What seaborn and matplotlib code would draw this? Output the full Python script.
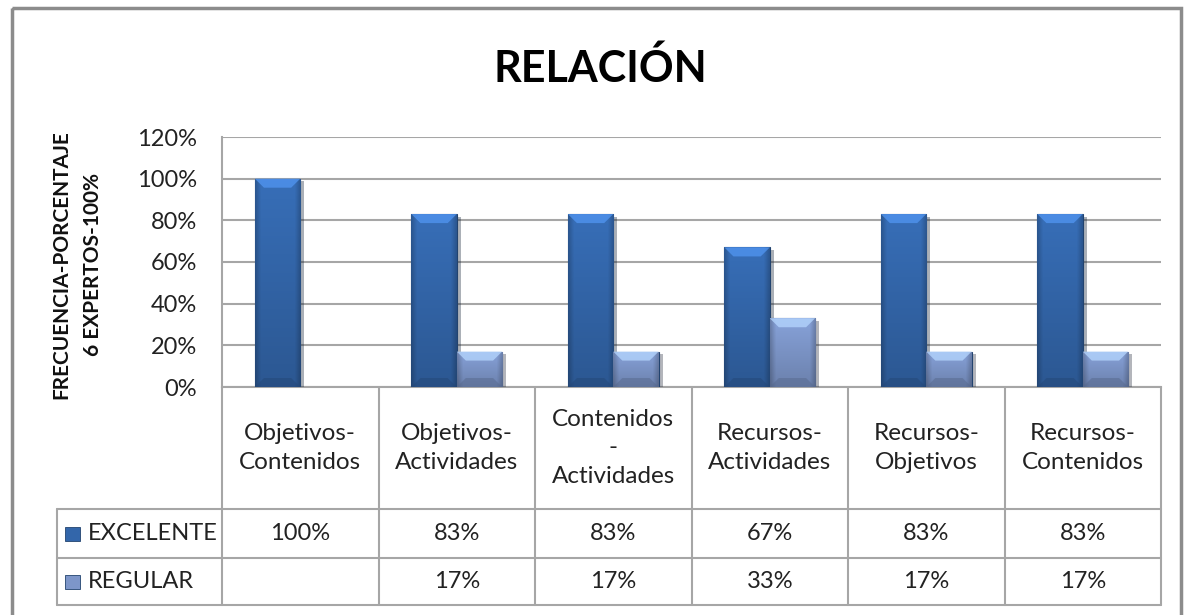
import matplotlib
matplotlib.use("Agg")
import matplotlib.pyplot as plt
import matplotlib.patheffects as pe
from matplotlib.colors import to_rgb
from matplotlib.patches import Rectangle, Polygon
from matplotlib.transforms import blended_transform_factory
import numpy as np
import pandas as pd
import seaborn as sns

# -----------------------------
# data
# -----------------------------
categories = ["Objetivos-\nContenidos", "Objetivos-\nActividades",
              "Contenidos\n-\nActividades", "Recursos-\nActividades",
              "Recursos-\nObjetivos", "Recursos-\nContenidos"]
series = ["EXCELENTE", "REGULAR"]
excelente = [100, 83, 83, 67, 83, 83]
regular = [np.nan, 17, 17, 33, 17, 17]
yticks = [0, 20, 40, 60, 80, 100, 120]

colors = {"EXCELENTE": "#3366AA", "REGULAR": "#7D96C9"}

df = pd.DataFrame({
    "Categoria": categories * 2,
    "Serie": [series[0]] * len(categories) + [series[1]] * len(categories),
    "Valor": excelente + regular,
}).dropna()

# -----------------------------
# figure
# -----------------------------
sns.set_style("white")
plt.rcParams["font.family"] = ["Lato", "DejaVu Sans"]

W, H = 1193, 615
fig = plt.figure(figsize=(W / 100, H / 100), dpi=100)

bg = fig.add_axes([0, 0, 1, 1])
bg.set_xlim(0, W)
bg.set_ylim(H, 0)
bg.axis("off")

x0, x1, ytop, ybot = 222, 1161, 137, 387
ax = fig.add_axes([x0 / W, 1 - ybot / H, (x1 - x0) / W, (ybot - ytop) / H])

sns.barplot(data=df, x="Categoria", y="Valor", hue="Serie", order=categories,
            hue_order=series, palette=colors, width=0.58, saturation=1,
            edgecolor="#22436F", linewidth=0.8, legend=False, ax=ax, zorder=3)

ax.set_xlim(-0.5, len(categories) - 0.5)
ax.set_ylim(0, 120)

# bevel look: gradient clipped to each bar + light top facet
px = 120 / (ybot - ytop)  # data units per pixel
for bar in list(ax.patches):
    bar.set_path_effects([pe.SimplePatchShadow(offset=(3, -2), alpha=0.35), pe.Normal()])
    bx, by, bw, bh = bar.get_x(), bar.get_y(), bar.get_width(), bar.get_height()
    base = np.array(to_rgb(bar.get_facecolor()))
    v = np.linspace(1.08, 0.86, 64)[:, None]
    hz = np.linspace(0, 1, 32)[None, :]
    edge = np.clip(np.minimum(hz, 1 - hz) / 0.12, 0, 1) * 0.2 + 0.8
    img = np.clip(base[None, None, :] * (v * edge)[:, :, None], 0, 1)
    im = ax.imshow(img, extent=[bx, bx + bw, by, by + bh], aspect="auto",
                   zorder=3.2, interpolation="bilinear")
    im.set_clip_path(bar)
    dx, dy = bw * 0.2, 9 * px
    top_col = np.clip(base * 1.35 + 0.05, 0, 1)
    ax.add_patch(Polygon([(bx, by + bh), (bx + bw, by + bh), (bx + bw - dx, by + bh - dy),
                          (bx + dx, by + bh - dy)], closed=True, facecolor=top_col,
                         edgecolor="none", alpha=0.75, zorder=3.3))
    bot_col = base * 0.7
    ax.add_patch(Polygon([(bx, by), (bx + bw, by), (bx + bw - dx, by + dy),
                          (bx + dx, by + dy)], closed=True, facecolor=bot_col,
                         edgecolor="none", alpha=0.5, zorder=3.3))

ax.set_xlim(-0.5, len(categories) - 0.5)
ax.set_ylim(0, 120)
ax.set_yticks(yticks)
ax.set_yticklabels([f"{t}%" for t in yticks])
ax.set_xticks([])
ax.set_xlabel("")
ax.set_ylabel("")
ax.tick_params(axis="y", length=0, pad=18, labelsize=17, labelcolor="#222222")
ax.yaxis.grid(True, color="#A6A6A6", linewidth=1.5, zorder=0)
ax.set_axisbelow(True)
for s in ["top", "right"]:
    ax.spines[s].set_visible(False)
for s in ["left", "bottom"]:
    ax.spines[s].set_color("#A6A6A6")
    ax.spines[s].set_linewidth(1.5)

# -----------------------------
# data table under the chart
# -----------------------------
trans = blended_transform_factory(ax.transData, bg.transData)
line_kw = dict(color="#A6A6A6", linewidth=1.5)
row_tops = [ybot, 509, 558, 605]

for k in range(len(categories) + 1):
    bg.plot([k - 0.5, k - 0.5], [ybot, row_tops[-1]], transform=trans, **line_kw)
for y in row_tops[1:]:
    bg.plot([57, x1], [y, y], **line_kw)
bg.plot([57, 57], [row_tops[1], row_tops[-1]], **line_kw)

for i, cat in enumerate(categories):
    bg.text(i, (row_tops[0] + row_tops[1]) / 2, cat, transform=trans, ha="center",
            va="center", fontsize=17.5, linespacing=1.45, color="#222222")
    for r, vals in enumerate([excelente, regular]):
        val = vals[i]
        txt = "" if np.isnan(val) else f"{val:.0f}%"
        bg.text(i, (row_tops[r + 1] + row_tops[r + 2]) / 2, txt, transform=trans,
                ha="center", va="center", fontsize=17, color="#222222")

for r, name in enumerate(series):
    yc = (row_tops[r + 1] + row_tops[r + 2]) / 2
    bg.add_patch(Rectangle((65, yc - 7), 15, 14, facecolor=colors[name],
                           edgecolor="#22436F", linewidth=0.6))
    bg.text(88, yc, name, ha="left", va="center", fontsize=17, color="#222222")

# -----------------------------
# titles and frame
# -----------------------------
bg.text(600, 68, "RELACIÓN", ha="center", va="center", fontsize=31,
        fontweight="bold", color="black")
bg.text(77, 265, "FRECUENCIA-PORCENTAJE\n6 EXPERTOS-100%", ha="center", va="center",
        rotation=90, fontsize=15, fontweight="bold", linespacing=1.7, color="#111111")
bg.add_patch(Rectangle((12, 8), W - 24, H + 20, fill=False, edgecolor="#8C8C8C",
                       linewidth=2.5))

fig.savefig("out.png", dpi=100)
